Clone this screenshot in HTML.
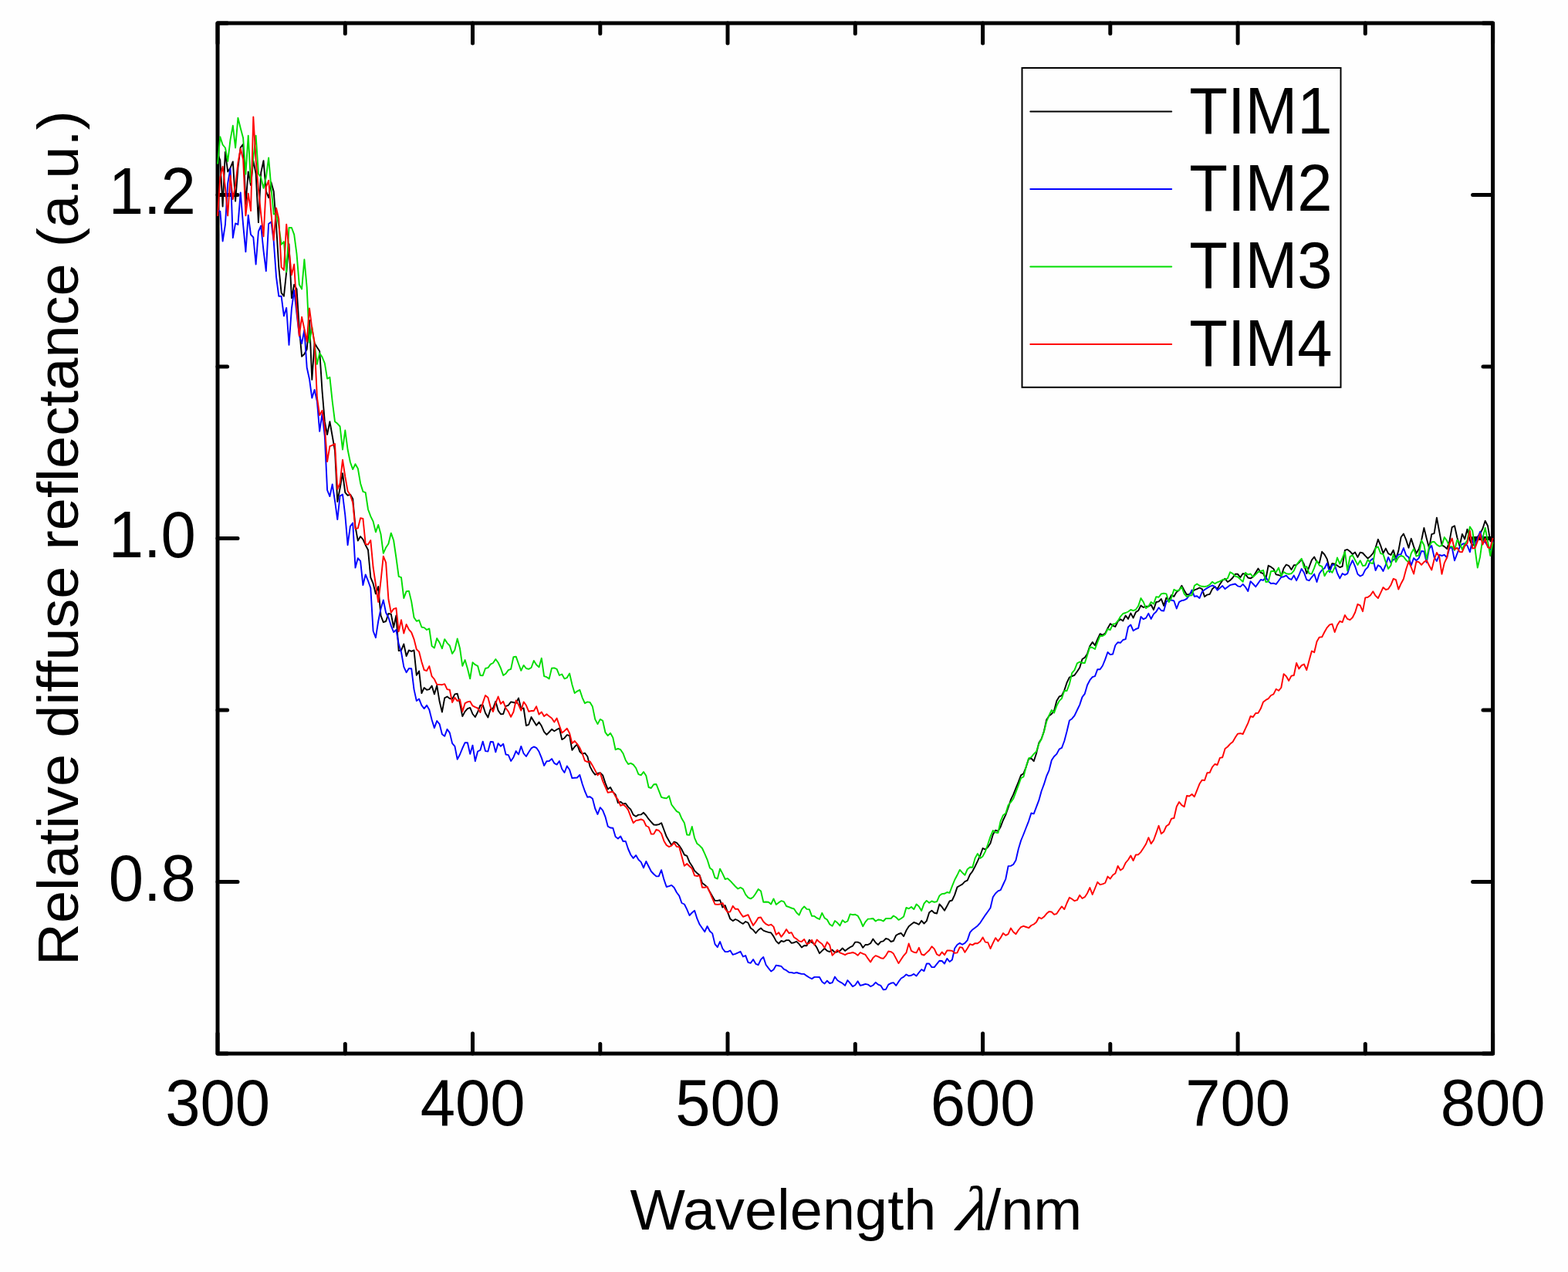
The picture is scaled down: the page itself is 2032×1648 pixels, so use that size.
<!DOCTYPE html>
<html lang="en"><head><meta charset="utf-8"><title>Relative diffuse reflectance</title>
<style>html,body{margin:0;padding:0;background:#fefefe;overflow:hidden}svg{display:block}</style>
</head><body>
<svg width="2032" height="1648" viewBox="0 0 2032 1648">
<rect width="2032" height="1648" fill="#fefefe"/>
<g stroke="#000" stroke-width="5.0" fill="none" stroke-linecap="round" stroke-linejoin="round">
<rect x="282.0" y="30.0" width="1652.6" height="1335.0"/>
<path d="M282.0 1365.0v-26M282.0 30.0v26M447.3 1365.0v-12.6M447.3 30.0v13.5M612.5 1365.0v-26M612.5 30.0v26M777.8 1365.0v-12.6M777.8 30.0v13.5M943.0 1365.0v-26M943.0 30.0v26M1108.3 1365.0v-12.6M1108.3 30.0v13.5M1273.6 1365.0v-26M1273.6 30.0v26M1438.8 1365.0v-12.6M1438.8 30.0v13.5M1604.1 1365.0v-26M1604.1 30.0v26M1769.3 1365.0v-12.6M1769.3 30.0v13.5M1934.6 1365.0v-26M1934.6 30.0v26M282.0 1365.0h12.6M1934.6 1365.0h-12.6M282.0 1142.5h26M1934.6 1142.5h-26M282.0 920.0h12.6M1934.6 920.0h-12.6M282.0 697.5h26M1934.6 697.5h-26M282.0 475.0h12.6M1934.6 475.0h-12.6M282.0 252.5h26M1934.6 252.5h-26M282.0 30.0h12.6M1934.6 30.0h-12.6"/>
</g>
<g fill="none" stroke-width="1.9" stroke-linejoin="round" stroke-linecap="butt">
<polyline stroke="#000000" points="282.0,199.0 285.3,207.5 288.6,267.5 291.9,196.9 295.2,222.5 298.5,217.5 301.8,209.4 305.1,260.6 308.4,217.5 311.7,191.2 315.1,186.9 318.4,264.4 321.7,222.5 325.0,240.0 328.3,208.1 331.6,225.0 334.9,288.1 338.2,223.8 341.5,208.1 344.8,247.5 348.1,256.2 351.4,236.2 354.7,248.1 358.0,291.2 361.3,346.2 364.6,379.4 367.9,383.8 371.2,352.5 374.5,316.2 377.9,386.2 381.2,368.8 384.5,374.4 387.8,425.0 391.1,461.9 394.4,458.8 397.7,452.5 401.0,415.0 404.3,491.9 407.6,444.4 410.9,450.0 414.2,455.0 417.5,506.2 420.8,546.2 424.1,563.1 427.4,546.2 430.7,565.0 434.0,583.8 437.3,650.0 440.6,632.5 444.0,613.1 447.3,638.1 450.6,641.9 453.9,640.6 457.2,646.2 460.5,682.5 463.8,700.6 467.1,695.0 470.4,698.8 473.7,706.2 477.0,712.5 480.3,748.1 483.6,756.2 486.9,769.4 490.2,760.0 493.5,797.5 496.8,806.2 500.1,805.0 503.4,795.0 506.8,795.6 510.1,812.8 513.4,797.5 516.7,843.1 520.0,842.5 523.3,834.4 526.6,850.0 529.9,842.5 533.2,843.8 536.5,842.5 539.8,874.8 543.1,869.4 546.4,898.1 549.7,891.0 553.0,893.8 556.3,893.1 559.6,888.5 562.9,899.4 566.2,888.1 569.6,908.8 572.9,922.5 576.2,904.4 579.5,902.5 582.8,905.0 586.1,905.6 589.4,899.4 592.7,898.8 596.0,911.2 599.3,928.1 602.6,921.9 605.9,918.1 609.2,916.9 612.5,925.0 615.8,929.0 619.1,922.5 622.4,913.8 625.7,913.5 629.0,923.8 632.4,929.4 635.7,918.8 639.0,917.5 642.3,908.8 645.6,920.6 648.9,925.2 652.2,925.0 655.5,914.8 658.8,913.8 662.1,909.4 665.4,910.0 668.7,911.2 672.0,904.4 675.3,918.1 678.6,917.5 681.9,940.0 685.2,938.8 688.5,929.0 691.8,934.4 695.1,939.8 698.5,935.6 701.8,940.6 705.1,948.1 708.4,951.9 711.7,948.5 715.0,944.8 718.3,947.2 721.6,945.2 724.9,943.5 728.2,958.1 731.5,956.2 734.8,952.2 738.1,953.1 741.4,971.9 744.7,967.5 748.0,964.4 751.3,973.8 754.6,976.9 757.9,975.6 761.3,980.0 764.6,993.1 767.9,999.4 771.2,1003.8 774.5,1001.9 777.8,1001.2 781.1,1004.4 784.4,1014.4 787.7,1022.5 791.0,1020.0 794.3,1026.2 797.6,1029.4 800.9,1040.2 804.2,1038.8 807.5,1041.5 810.8,1041.0 814.1,1045.6 817.4,1048.8 820.7,1055.6 824.1,1057.8 827.4,1055.6 830.7,1055.4 834.0,1052.8 837.3,1056.5 840.6,1061.2 843.9,1065.0 847.2,1068.5 850.5,1068.8 853.8,1068.1 857.1,1066.2 860.4,1075.0 863.7,1083.8 867.0,1089.4 870.3,1095.0 873.6,1090.6 876.9,1091.9 880.2,1095.6 883.5,1100.6 886.9,1107.5 890.2,1108.8 893.5,1116.9 896.8,1121.9 900.1,1128.1 903.4,1131.2 906.7,1134.0 910.0,1144.0 913.3,1146.5 916.6,1149.4 919.9,1155.6 923.2,1161.2 926.5,1166.9 929.8,1166.9 933.1,1166.2 936.4,1175.6 939.7,1173.1 943.0,1181.9 946.3,1190.6 949.7,1193.1 953.0,1191.0 956.3,1192.5 959.6,1195.0 962.9,1196.9 966.2,1194.0 969.5,1195.6 972.8,1202.5 976.1,1204.8 979.4,1209.0 982.7,1205.0 986.0,1202.5 989.3,1205.6 992.6,1206.9 995.9,1207.9 999.2,1208.5 1002.5,1213.1 1005.8,1219.4 1009.1,1222.5 1012.4,1219.0 1015.8,1220.0 1019.1,1218.1 1022.4,1218.1 1025.7,1221.9 1029.0,1221.2 1032.3,1219.8 1035.6,1223.1 1038.9,1227.5 1042.2,1225.0 1045.5,1225.2 1048.8,1217.8 1052.1,1221.0 1055.4,1223.1 1058.7,1228.1 1062.0,1235.2 1065.3,1231.9 1068.6,1228.8 1071.9,1231.9 1075.2,1233.1 1078.6,1230.6 1081.9,1234.0 1085.2,1233.1 1088.5,1231.9 1091.8,1228.5 1095.1,1231.9 1098.4,1229.4 1101.7,1227.2 1105.0,1225.6 1108.3,1220.6 1111.6,1220.6 1114.9,1222.2 1118.2,1227.8 1121.5,1224.0 1124.8,1224.0 1128.1,1222.2 1131.4,1216.5 1134.7,1221.2 1138.0,1224.0 1141.4,1220.2 1144.7,1219.4 1148.0,1216.0 1151.3,1216.9 1154.6,1220.0 1157.9,1219.0 1161.2,1211.9 1164.5,1210.0 1167.8,1209.0 1171.1,1213.1 1174.4,1205.6 1177.7,1200.2 1181.0,1197.5 1184.3,1195.0 1187.6,1196.2 1190.9,1197.8 1194.2,1192.8 1197.5,1196.5 1200.8,1193.1 1204.2,1182.2 1207.5,1179.8 1210.8,1182.8 1214.1,1183.5 1217.4,1171.5 1220.7,1175.0 1224.0,1179.8 1227.3,1173.8 1230.6,1167.5 1233.9,1166.5 1237.2,1159.4 1240.5,1149.4 1243.8,1147.5 1247.1,1145.6 1250.4,1142.2 1253.7,1140.6 1257.0,1133.1 1260.3,1128.8 1263.6,1122.5 1266.9,1115.6 1270.3,1108.1 1273.6,1099.0 1276.9,1100.6 1280.2,1097.5 1283.5,1092.5 1286.8,1081.2 1290.1,1075.6 1293.4,1076.9 1296.7,1071.2 1300.0,1062.5 1303.3,1055.6 1306.6,1046.2 1309.9,1036.2 1313.2,1029.4 1316.5,1021.2 1319.8,1013.1 1323.1,1004.4 1326.4,1002.2 1329.7,993.8 1333.1,983.1 1336.4,982.5 1339.7,986.2 1343.0,976.2 1346.3,962.5 1349.6,957.2 1352.9,947.5 1356.2,932.5 1359.5,927.5 1362.8,925.0 1366.1,920.6 1369.4,908.1 1372.7,902.5 1376.0,901.2 1379.3,894.4 1382.6,884.4 1385.9,877.5 1389.2,876.0 1392.5,874.8 1395.9,870.0 1399.2,865.0 1402.5,854.0 1405.8,851.9 1409.1,846.9 1412.4,836.9 1415.7,831.9 1419.0,836.2 1422.3,828.1 1425.6,821.2 1428.9,822.8 1432.2,820.6 1435.5,814.0 1438.8,808.1 1442.1,810.6 1445.4,811.9 1448.7,805.0 1452.0,802.2 1455.3,804.4 1458.7,797.5 1462.0,801.9 1465.3,794.4 1468.6,800.6 1471.9,793.1 1475.2,791.0 1478.5,784.4 1481.8,786.9 1485.1,785.6 1488.4,785.6 1491.7,783.5 1495.0,790.0 1498.3,780.0 1501.6,779.4 1504.9,776.0 1508.2,784.8 1511.5,774.4 1514.8,777.5 1518.1,771.0 1521.4,772.8 1524.8,766.9 1528.1,764.4 1531.4,758.8 1534.7,765.0 1538.0,770.6 1541.3,769.8 1544.6,767.5 1547.9,764.4 1551.2,763.1 1554.5,761.5 1557.8,763.1 1561.1,773.1 1564.4,770.6 1567.7,769.8 1571.0,763.1 1574.3,760.0 1577.6,763.1 1580.9,756.9 1584.2,751.9 1587.6,749.8 1590.9,754.0 1594.2,751.9 1597.5,748.5 1600.8,743.8 1604.1,743.8 1607.4,748.1 1610.7,743.1 1614.0,744.0 1617.3,748.5 1620.6,749.4 1623.9,747.2 1627.2,741.9 1630.5,736.5 1633.8,741.9 1637.1,743.1 1640.4,750.0 1643.7,732.8 1647.0,734.4 1650.4,736.9 1653.7,744.4 1657.0,745.0 1660.3,746.5 1663.6,736.2 1666.9,731.5 1670.2,733.1 1673.5,738.1 1676.8,732.2 1680.1,731.9 1683.4,728.8 1686.7,724.8 1690.0,731.2 1693.3,743.1 1696.6,734.4 1699.9,725.6 1703.2,721.5 1706.5,728.1 1709.8,729.4 1713.2,714.8 1716.5,718.5 1719.8,724.4 1723.1,737.5 1726.4,730.0 1729.7,730.6 1733.0,732.8 1736.3,735.0 1739.6,733.8 1742.9,712.8 1746.2,711.9 1749.5,714.4 1752.8,718.1 1756.1,715.6 1759.4,721.9 1762.7,715.6 1766.0,716.5 1769.3,720.2 1772.6,723.5 1776.0,720.6 1779.3,716.9 1782.6,709.8 1785.9,698.8 1789.2,706.9 1792.5,716.9 1795.8,710.6 1799.1,717.2 1802.4,719.0 1805.7,712.8 1809.0,724.0 1812.3,713.8 1815.6,696.0 1818.9,691.5 1822.2,699.4 1825.5,709.8 1828.8,697.8 1832.1,708.1 1835.4,716.9 1838.7,711.2 1842.1,700.0 1845.4,684.0 1848.7,697.5 1852.0,710.0 1855.3,692.2 1858.6,691.2 1861.9,670.6 1865.2,688.5 1868.5,706.2 1871.8,708.1 1875.1,711.0 1878.4,701.2 1881.7,683.1 1885.0,681.2 1888.3,696.2 1891.6,707.5 1894.9,691.9 1898.2,698.5 1901.5,685.6 1904.9,700.0 1908.2,707.5 1911.5,701.2 1914.8,695.6 1918.1,691.2 1921.4,685.0 1924.7,674.8 1928.0,681.2 1931.3,701.2 1934.6,696.2"/>
<polyline stroke="#0000ff" points="282.0,272.5 285.3,273.8 288.6,312.5 291.9,291.2 295.2,237.5 298.5,218.1 301.8,308.1 305.1,289.4 308.4,291.0 311.7,249.4 315.1,291.2 318.4,326.2 321.7,278.8 325.0,303.8 328.3,307.5 331.6,342.5 334.9,300.0 338.2,292.5 341.5,325.0 344.8,351.2 348.1,290.0 351.4,287.5 354.7,312.5 358.0,358.8 361.3,383.8 364.6,383.8 367.9,409.4 371.2,398.8 374.5,446.9 377.9,400.0 381.2,376.2 384.5,406.2 387.8,434.4 391.1,445.0 394.4,427.5 397.7,476.2 401.0,491.2 404.3,515.6 407.6,505.0 410.9,520.0 414.2,558.8 417.5,536.2 420.8,565.0 424.1,635.0 427.4,643.1 430.7,627.5 434.0,648.8 437.3,673.1 440.6,642.5 444.0,640.6 447.3,667.5 450.6,706.2 453.9,681.9 457.2,677.5 460.5,735.6 463.8,723.1 467.1,726.9 470.4,758.1 473.7,744.4 477.0,752.5 480.3,761.9 483.6,817.5 486.9,826.2 490.2,805.0 493.5,788.8 496.8,777.5 500.1,793.8 503.4,800.0 506.8,810.6 510.1,819.0 513.4,816.0 516.7,834.4 520.0,845.0 523.3,863.8 526.6,871.2 529.9,866.0 533.2,866.2 536.5,893.1 539.8,908.1 543.1,905.6 546.4,913.8 549.7,918.1 553.0,913.8 556.3,919.4 559.6,932.5 562.9,943.1 566.2,934.0 569.6,938.1 572.9,951.2 576.2,953.8 579.5,944.8 582.8,949.4 586.1,963.1 589.4,966.9 592.7,983.8 596.0,977.5 599.3,969.4 602.6,962.2 605.9,962.2 609.2,976.9 612.5,965.6 615.8,986.2 619.1,973.5 622.4,971.9 625.7,960.6 629.0,973.1 632.4,973.5 635.7,961.0 639.0,961.2 642.3,974.4 645.6,963.1 648.9,966.9 652.2,963.8 655.5,977.5 658.8,978.1 662.1,986.0 665.4,981.2 668.7,973.1 672.0,977.5 675.3,966.9 678.6,976.2 681.9,980.0 685.2,974.4 688.5,969.4 691.8,967.5 695.1,968.8 698.5,973.8 701.8,981.9 705.1,991.9 708.4,986.2 711.7,986.0 715.0,983.1 718.3,988.8 721.6,990.6 724.9,986.0 728.2,996.2 731.5,1001.0 734.8,992.5 738.1,997.2 741.4,1008.1 744.7,1007.8 748.0,1007.5 751.3,1004.0 754.6,1015.6 757.9,1025.0 761.3,1032.8 764.6,1032.2 767.9,1034.8 771.2,1047.5 774.5,1055.0 777.8,1046.2 781.1,1049.8 784.4,1058.1 787.7,1070.6 791.0,1072.5 794.3,1072.8 797.6,1084.0 800.9,1086.5 804.2,1083.5 807.5,1090.0 810.8,1090.0 814.1,1100.0 817.4,1107.5 820.7,1111.9 824.1,1108.1 827.4,1113.8 830.7,1116.9 834.0,1124.4 837.3,1116.0 840.6,1122.5 843.9,1129.0 847.2,1132.5 850.5,1135.4 853.8,1135.2 857.1,1127.2 860.4,1139.4 863.7,1149.0 867.0,1148.1 870.3,1146.9 873.6,1150.0 876.9,1156.2 880.2,1160.6 883.5,1170.0 886.9,1171.5 890.2,1178.1 893.5,1186.0 896.8,1182.5 900.1,1179.8 903.4,1190.2 906.7,1197.8 910.0,1202.5 913.3,1207.2 916.6,1200.0 919.9,1206.5 923.2,1209.4 926.5,1223.1 929.8,1227.2 933.1,1220.0 936.4,1229.0 939.7,1233.1 943.0,1233.1 946.3,1231.5 949.7,1236.9 953.0,1235.9 956.3,1234.4 959.6,1232.8 962.9,1239.4 966.2,1238.1 969.5,1246.9 972.8,1247.8 976.1,1243.1 979.4,1248.8 982.7,1250.2 986.0,1243.1 989.3,1240.0 992.6,1250.0 995.9,1254.4 999.2,1258.5 1002.5,1256.2 1005.8,1250.6 1009.1,1251.2 1012.4,1251.9 1015.8,1255.6 1019.1,1257.2 1022.4,1259.8 1025.7,1260.0 1029.0,1260.9 1032.3,1260.0 1035.6,1261.0 1038.9,1261.9 1042.2,1261.9 1045.5,1264.4 1048.8,1266.5 1052.1,1268.1 1055.4,1265.9 1058.7,1265.9 1062.0,1266.0 1065.3,1271.9 1068.6,1274.4 1071.9,1270.6 1075.2,1274.0 1078.6,1273.1 1081.9,1265.6 1085.2,1270.0 1088.5,1272.2 1091.8,1274.0 1095.1,1276.9 1098.4,1270.0 1101.7,1273.8 1105.0,1278.1 1108.3,1276.2 1111.6,1271.2 1114.9,1276.9 1118.2,1276.0 1121.5,1274.8 1124.8,1275.6 1128.1,1278.1 1131.4,1276.5 1134.7,1272.8 1138.0,1275.6 1141.4,1276.9 1144.7,1282.2 1148.0,1281.9 1151.3,1275.6 1154.6,1273.8 1157.9,1273.1 1161.2,1276.9 1164.5,1271.9 1167.8,1267.5 1171.1,1265.6 1174.4,1262.5 1177.7,1264.4 1181.0,1263.8 1184.3,1261.9 1187.6,1264.4 1190.9,1260.0 1194.2,1256.0 1197.5,1258.1 1200.8,1248.5 1204.2,1248.5 1207.5,1253.1 1210.8,1253.1 1214.1,1248.8 1217.4,1244.8 1220.7,1245.0 1224.0,1248.5 1227.3,1241.9 1230.6,1246.0 1233.9,1243.5 1237.2,1228.8 1240.5,1224.0 1243.8,1221.9 1247.1,1223.8 1250.4,1221.9 1253.7,1218.1 1257.0,1208.1 1260.3,1204.4 1263.6,1201.9 1266.9,1199.4 1270.3,1195.6 1273.6,1190.6 1276.9,1185.6 1280.2,1181.0 1283.5,1176.2 1286.8,1162.2 1290.1,1157.5 1293.4,1154.4 1296.7,1153.1 1300.0,1146.0 1303.3,1138.8 1306.6,1122.1 1309.9,1121.9 1313.2,1120.0 1316.5,1114.4 1319.8,1100.0 1323.1,1089.0 1326.4,1081.0 1329.7,1072.5 1333.1,1063.8 1336.4,1053.5 1339.7,1054.4 1343.0,1045.6 1346.3,1036.9 1349.6,1025.0 1352.9,1016.2 1356.2,1005.6 1359.5,998.1 1362.8,985.0 1366.1,980.0 1369.4,976.9 1372.7,970.6 1376.0,968.8 1379.3,960.0 1382.6,947.5 1385.9,933.5 1389.2,931.2 1392.5,927.2 1395.9,920.0 1399.2,913.1 1402.5,903.1 1405.8,898.8 1409.1,887.5 1412.4,881.2 1415.7,877.2 1419.0,876.2 1422.3,867.2 1425.6,867.2 1428.9,862.5 1432.2,854.4 1435.5,845.0 1438.8,848.1 1442.1,847.5 1445.4,836.0 1448.7,832.2 1452.0,832.8 1455.3,829.0 1458.7,828.1 1462.0,812.5 1465.3,809.4 1468.6,817.2 1471.9,815.0 1475.2,813.8 1478.5,799.0 1481.8,802.2 1485.1,800.6 1488.4,794.8 1491.7,801.9 1495.0,795.6 1498.3,792.5 1501.6,787.2 1504.9,791.0 1508.2,791.5 1511.5,779.4 1514.8,777.2 1518.1,777.5 1521.4,778.5 1524.8,788.5 1528.1,779.8 1531.4,778.1 1534.7,777.5 1538.0,775.6 1541.3,771.2 1544.6,764.4 1547.9,772.8 1551.2,772.2 1554.5,775.0 1557.8,766.9 1561.1,764.0 1564.4,761.9 1567.7,760.0 1571.0,758.5 1574.3,759.8 1577.6,764.8 1580.9,761.9 1584.2,759.0 1587.6,763.1 1590.9,760.6 1594.2,758.1 1597.5,757.2 1600.8,756.5 1604.1,759.4 1607.4,760.2 1610.7,756.9 1614.0,760.6 1617.3,766.0 1620.6,753.1 1623.9,756.5 1627.2,760.2 1630.5,755.6 1633.8,751.0 1637.1,751.9 1640.4,747.8 1643.7,753.1 1647.0,756.0 1650.4,755.6 1653.7,756.9 1657.0,752.5 1660.3,747.8 1663.6,747.2 1666.9,745.6 1670.2,749.4 1673.5,751.0 1676.8,745.6 1680.1,752.2 1683.4,745.0 1686.7,736.9 1690.0,741.9 1693.3,751.2 1696.6,752.2 1699.9,747.8 1703.2,743.8 1706.5,754.0 1709.8,743.1 1713.2,738.5 1716.5,736.2 1719.8,729.8 1723.1,741.2 1726.4,731.9 1729.7,731.9 1733.0,742.5 1736.3,749.4 1739.6,743.1 1742.9,744.8 1746.2,743.1 1749.5,732.8 1752.8,726.0 1756.1,733.8 1759.4,743.8 1762.7,746.5 1766.0,744.8 1769.3,738.1 1772.6,734.8 1776.0,726.2 1779.3,723.5 1782.6,739.0 1785.9,732.2 1789.2,734.4 1792.5,740.0 1795.8,731.9 1799.1,721.9 1802.4,729.0 1805.7,725.2 1809.0,722.5 1812.3,718.5 1815.6,718.1 1818.9,710.0 1822.2,719.4 1825.5,721.9 1828.8,732.5 1832.1,723.1 1835.4,726.2 1838.7,723.1 1842.1,714.0 1845.4,714.4 1848.7,728.8 1852.0,711.2 1855.3,706.9 1858.6,721.9 1861.9,726.9 1865.2,718.8 1868.5,720.0 1871.8,718.8 1875.1,722.5 1878.4,710.0 1881.7,709.4 1885.0,726.2 1888.3,717.5 1891.6,708.8 1894.9,705.0 1898.2,704.0 1901.5,706.9 1904.9,715.2 1908.2,700.0 1911.5,707.5 1914.8,697.5 1918.1,688.8 1921.4,700.0 1924.7,702.5 1928.0,707.5 1931.3,712.5 1934.6,701.2"/>
<polyline stroke="#00dc00" points="282.0,212.5 285.3,177.2 288.6,187.5 291.9,191.5 295.2,209.0 298.5,181.2 301.8,162.8 305.1,191.5 308.4,152.8 311.7,166.0 315.1,178.8 318.4,225.6 321.7,175.6 325.0,236.2 328.3,205.0 331.6,175.6 334.9,225.0 338.2,230.0 341.5,243.8 344.8,230.0 348.1,204.4 351.4,242.5 354.7,277.5 358.0,276.2 361.3,292.5 364.6,316.9 367.9,313.1 371.2,352.5 374.5,295.0 377.9,295.0 381.2,303.8 384.5,328.8 387.8,368.8 391.1,374.4 394.4,336.2 397.7,372.5 401.0,443.8 404.3,423.8 407.6,445.0 410.9,471.9 414.2,457.5 417.5,462.5 420.8,470.6 424.1,490.6 427.4,488.8 430.7,520.0 434.0,546.2 437.3,548.8 440.6,552.5 444.0,582.5 447.3,557.5 450.6,582.5 453.9,598.8 457.2,608.1 460.5,601.2 463.8,606.9 467.1,626.2 470.4,636.9 473.7,638.1 477.0,660.0 480.3,668.8 483.6,675.6 486.9,689.4 490.2,680.0 493.5,691.9 496.8,716.9 500.1,709.4 503.4,704.4 506.8,690.6 510.1,700.0 513.4,722.5 516.7,746.9 520.0,748.1 523.3,775.0 526.6,766.2 529.9,765.6 533.2,779.4 536.5,800.0 539.8,804.8 543.1,803.5 546.4,812.5 549.7,813.1 553.0,816.0 556.3,814.4 559.6,836.9 562.9,839.4 566.2,826.9 569.6,832.5 572.9,840.2 576.2,828.1 579.5,833.1 582.8,836.5 586.1,846.9 589.4,841.9 592.7,827.5 596.0,840.0 599.3,862.8 602.6,855.0 605.9,866.2 609.2,879.4 612.5,858.1 615.8,861.2 619.1,862.8 622.4,875.0 625.7,875.2 629.0,866.0 632.4,865.2 635.7,860.6 639.0,859.0 642.3,854.0 645.6,858.5 648.9,865.6 652.2,875.0 655.5,872.8 658.8,868.1 662.1,866.9 665.4,851.2 668.7,850.6 672.0,860.0 675.3,868.8 678.6,861.9 681.9,866.0 685.2,866.9 688.5,865.0 691.8,856.0 695.1,861.2 698.5,864.4 701.8,852.8 705.1,876.2 708.4,877.2 711.7,879.4 715.0,865.6 718.3,865.4 721.6,866.9 724.9,875.0 728.2,873.5 731.5,879.4 734.8,878.1 738.1,872.5 741.4,886.9 744.7,898.1 748.0,895.6 751.3,893.8 754.6,903.8 757.9,911.2 761.3,909.4 764.6,910.0 767.9,915.6 771.2,931.9 774.5,938.1 777.8,931.9 781.1,933.8 784.4,948.8 787.7,953.1 791.0,949.8 794.3,955.6 797.6,971.2 800.9,970.0 804.2,971.2 807.5,976.2 810.8,985.0 814.1,990.0 817.4,988.8 820.7,990.6 824.1,995.0 827.4,1003.1 830.7,1004.4 834.0,1000.0 837.3,1005.0 840.6,1020.0 843.9,1021.0 847.2,1016.2 850.5,1016.0 853.8,1024.4 857.1,1032.8 860.4,1033.8 863.7,1034.4 867.0,1031.2 870.3,1042.5 873.6,1046.9 876.9,1051.2 880.2,1052.8 883.5,1060.6 886.9,1066.2 890.2,1081.5 893.5,1081.9 896.8,1071.0 900.1,1085.6 903.4,1093.1 906.7,1095.6 910.0,1099.0 913.3,1106.2 916.6,1113.8 919.9,1124.4 923.2,1126.9 926.5,1137.2 929.8,1138.5 933.1,1125.6 936.4,1131.9 939.7,1139.0 943.0,1138.1 946.3,1141.2 949.7,1144.8 953.0,1148.5 956.3,1151.5 959.6,1149.8 962.9,1151.9 966.2,1158.8 969.5,1162.8 972.8,1164.4 976.1,1162.2 979.4,1157.5 982.7,1151.9 986.0,1154.4 989.3,1168.8 992.6,1168.5 995.9,1168.8 999.2,1171.5 1002.5,1164.4 1005.8,1171.9 1009.1,1169.4 1012.4,1167.2 1015.8,1168.1 1019.1,1174.0 1022.4,1175.2 1025.7,1176.5 1029.0,1177.5 1032.3,1182.5 1035.6,1185.6 1038.9,1178.1 1042.2,1174.4 1045.5,1177.9 1048.8,1178.1 1052.1,1186.9 1055.4,1186.9 1058.7,1189.4 1062.0,1191.0 1065.3,1182.8 1068.6,1189.4 1071.9,1191.5 1075.2,1197.5 1078.6,1199.8 1081.9,1193.1 1085.2,1195.6 1088.5,1199.4 1091.8,1192.2 1095.1,1195.0 1098.4,1193.5 1101.7,1184.4 1105.0,1185.2 1108.3,1184.8 1111.6,1186.5 1114.9,1192.2 1118.2,1200.2 1121.5,1194.4 1124.8,1190.6 1128.1,1190.4 1131.4,1190.0 1134.7,1193.5 1138.0,1191.5 1141.4,1191.9 1144.7,1193.5 1148.0,1190.0 1151.3,1190.0 1154.6,1190.0 1157.9,1186.5 1161.2,1188.5 1164.5,1191.9 1167.8,1190.0 1171.1,1187.5 1174.4,1176.0 1177.7,1177.2 1181.0,1175.0 1184.3,1178.1 1187.6,1171.5 1190.9,1174.4 1194.2,1180.0 1197.5,1170.6 1200.8,1166.9 1204.2,1169.8 1207.5,1167.5 1210.8,1168.8 1214.1,1168.1 1217.4,1160.6 1220.7,1158.1 1224.0,1157.8 1227.3,1156.0 1230.6,1156.9 1233.9,1148.1 1237.2,1140.0 1240.5,1133.8 1243.8,1126.9 1247.1,1130.6 1250.4,1133.8 1253.7,1126.2 1257.0,1123.5 1260.3,1123.8 1263.6,1111.9 1266.9,1106.0 1270.3,1111.9 1273.6,1109.4 1276.9,1103.1 1280.2,1093.8 1283.5,1083.8 1286.8,1076.0 1290.1,1078.5 1293.4,1079.0 1296.7,1063.8 1300.0,1056.2 1303.3,1053.8 1306.6,1043.1 1309.9,1039.4 1313.2,1034.8 1316.5,1026.2 1319.8,1017.5 1323.1,1008.1 1326.4,1006.5 1329.7,993.5 1333.1,982.5 1336.4,981.2 1339.7,976.9 1343.0,973.8 1346.3,963.8 1349.6,957.5 1352.9,948.1 1356.2,935.0 1359.5,926.9 1362.8,920.0 1366.1,923.5 1369.4,914.4 1372.7,908.1 1376.0,904.8 1379.3,895.0 1382.6,895.0 1385.9,886.2 1389.2,871.9 1392.5,868.1 1395.9,859.4 1399.2,857.5 1402.5,858.8 1405.8,859.0 1409.1,848.8 1412.4,838.1 1415.7,839.0 1419.0,841.0 1422.3,831.9 1425.6,823.8 1428.9,824.0 1432.2,821.9 1435.5,815.0 1438.8,816.0 1442.1,808.8 1445.4,808.1 1448.7,804.4 1452.0,798.8 1455.3,795.0 1458.7,794.0 1462.0,792.5 1465.3,790.0 1468.6,791.2 1471.9,789.8 1475.2,785.0 1478.5,775.0 1481.8,780.0 1485.1,788.1 1488.4,785.6 1491.7,780.0 1495.0,782.5 1498.3,773.1 1501.6,773.8 1504.9,769.4 1508.2,768.8 1511.5,769.4 1514.8,780.0 1518.1,774.4 1521.4,763.8 1524.8,765.6 1528.1,764.4 1531.4,760.6 1534.7,769.4 1538.0,773.1 1541.3,771.5 1544.6,771.2 1547.9,758.8 1551.2,756.5 1554.5,758.8 1557.8,759.8 1561.1,760.0 1564.4,759.4 1567.7,757.5 1571.0,753.8 1574.3,756.2 1577.6,754.4 1580.9,753.1 1584.2,751.2 1587.6,750.6 1590.9,749.4 1594.2,741.2 1597.5,743.1 1600.8,746.5 1604.1,747.5 1607.4,750.6 1610.7,753.8 1614.0,741.9 1617.3,744.4 1620.6,743.5 1623.9,747.5 1627.2,744.4 1630.5,741.0 1633.8,740.0 1637.1,738.8 1640.4,754.0 1643.7,753.5 1647.0,740.2 1650.4,739.8 1653.7,741.2 1657.0,735.6 1660.3,746.2 1663.6,741.0 1666.9,743.1 1670.2,743.8 1673.5,743.1 1676.8,739.4 1680.1,731.9 1683.4,727.5 1686.7,723.8 1690.0,735.6 1693.3,734.0 1696.6,743.1 1699.9,743.5 1703.2,735.6 1706.5,726.5 1709.8,732.5 1713.2,733.8 1716.5,746.2 1719.8,740.6 1723.1,738.8 1726.4,741.9 1729.7,735.2 1733.0,722.5 1736.3,730.6 1739.6,723.1 1742.9,715.0 1746.2,739.4 1749.5,721.2 1752.8,719.4 1756.1,725.6 1759.4,731.9 1762.7,726.2 1766.0,733.1 1769.3,732.5 1772.6,725.2 1776.0,729.4 1779.3,730.0 1782.6,709.8 1785.9,708.5 1789.2,717.2 1792.5,718.1 1795.8,728.1 1799.1,736.9 1802.4,732.5 1805.7,718.1 1809.0,728.1 1812.3,721.9 1815.6,720.0 1818.9,721.2 1822.2,725.6 1825.5,728.5 1828.8,716.9 1832.1,711.0 1835.4,720.6 1838.7,719.4 1842.1,700.0 1845.4,706.2 1848.7,724.4 1852.0,708.1 1855.3,702.2 1858.6,701.9 1861.9,705.6 1865.2,707.8 1868.5,706.9 1871.8,696.0 1875.1,700.6 1878.4,708.1 1881.7,708.1 1885.0,713.1 1888.3,699.4 1891.6,703.1 1894.9,711.9 1898.2,705.0 1901.5,700.0 1904.9,682.5 1908.2,687.5 1911.5,711.2 1914.8,735.6 1918.1,721.2 1921.4,697.5 1924.7,683.8 1928.0,701.2 1931.3,720.0 1934.6,702.5"/>
<polyline stroke="#ff0000" points="282.0,280.0 285.3,230.0 288.6,215.6 291.9,242.5 295.2,279.4 298.5,227.5 301.8,258.1 305.1,240.0 308.4,211.2 311.7,192.5 315.1,206.2 318.4,279.4 321.7,250.6 325.0,273.1 328.3,151.5 331.6,207.5 334.9,245.0 338.2,277.5 341.5,306.2 344.8,242.5 348.1,233.8 351.4,276.2 354.7,311.2 358.0,269.4 361.3,283.8 364.6,346.2 367.9,350.0 371.2,290.6 374.5,323.8 377.9,356.2 381.2,342.5 384.5,400.0 387.8,435.0 391.1,410.6 394.4,426.2 397.7,442.5 401.0,399.4 404.3,425.0 407.6,443.8 410.9,515.0 414.2,538.1 417.5,531.9 420.8,552.5 424.1,598.1 427.4,578.1 430.7,576.9 434.0,575.0 437.3,633.8 440.6,626.2 444.0,595.6 447.3,617.5 450.6,636.2 453.9,641.2 457.2,651.2 460.5,685.0 463.8,684.4 467.1,671.2 470.4,671.9 473.7,705.0 477.0,705.6 480.3,700.0 483.6,735.0 486.9,757.5 490.2,780.0 493.5,752.5 496.8,720.6 500.1,728.8 503.4,776.2 506.8,793.8 510.1,788.8 513.4,787.8 516.7,818.1 520.0,803.1 523.3,820.6 526.6,809.0 529.9,815.6 533.2,819.4 536.5,828.1 539.8,841.2 543.1,844.4 546.4,857.5 549.7,868.1 553.0,869.0 556.3,863.1 559.6,876.2 562.9,880.0 566.2,886.9 569.6,886.9 572.9,887.2 576.2,886.2 579.5,893.1 582.8,893.8 586.1,910.0 589.4,903.8 592.7,908.1 596.0,906.2 599.3,921.9 602.6,911.2 605.9,909.4 609.2,908.8 612.5,914.4 615.8,916.2 619.1,917.5 622.4,923.1 625.7,910.6 629.0,901.0 632.4,903.8 635.7,916.2 639.0,921.9 642.3,911.2 645.6,902.5 648.9,911.9 652.2,908.8 655.5,917.5 658.8,921.9 662.1,928.8 665.4,922.5 668.7,907.5 672.0,913.1 675.3,920.6 678.6,909.4 681.9,913.8 685.2,921.9 688.5,921.0 691.8,921.0 695.1,915.2 698.5,925.6 701.8,922.5 705.1,928.1 708.4,925.2 711.7,928.1 715.0,930.6 718.3,935.6 721.6,930.6 724.9,940.0 728.2,949.4 731.5,946.9 734.8,943.8 738.1,950.0 741.4,963.1 744.7,960.0 748.0,963.8 751.3,968.8 754.6,976.2 757.9,985.6 761.3,987.2 764.6,986.5 767.9,991.9 771.2,998.1 774.5,1004.4 777.8,1001.5 781.1,1011.9 784.4,1019.4 787.7,1026.9 791.0,1026.2 794.3,1025.6 797.6,1031.9 800.9,1036.2 804.2,1044.0 807.5,1042.2 810.8,1045.0 814.1,1049.4 817.4,1058.1 820.7,1066.2 824.1,1063.1 827.4,1062.5 830.7,1061.5 834.0,1062.8 837.3,1070.0 840.6,1071.5 843.9,1080.6 847.2,1080.6 850.5,1074.8 853.8,1076.0 857.1,1080.0 860.4,1089.4 863.7,1095.0 867.0,1097.1 870.3,1095.6 873.6,1091.9 876.9,1096.9 880.2,1097.2 883.5,1109.4 886.9,1121.9 890.2,1119.0 893.5,1122.2 896.8,1125.2 900.1,1134.4 903.4,1135.0 906.7,1134.4 910.0,1149.8 913.3,1149.8 916.6,1148.8 919.9,1156.2 923.2,1163.8 926.5,1171.5 929.8,1171.9 933.1,1171.5 936.4,1170.0 939.7,1177.5 943.0,1181.9 946.3,1181.2 949.7,1173.8 953.0,1177.8 956.3,1177.8 959.6,1183.1 962.9,1187.8 966.2,1186.5 969.5,1185.2 972.8,1192.5 976.1,1199.0 979.4,1194.4 982.7,1189.0 986.0,1188.5 989.3,1194.0 992.6,1197.2 995.9,1198.8 999.2,1197.8 1002.5,1200.6 1005.8,1211.0 1009.1,1208.1 1012.4,1213.8 1015.8,1209.4 1019.1,1204.0 1022.4,1209.0 1025.7,1208.1 1029.0,1214.4 1032.3,1216.5 1035.6,1219.4 1038.9,1220.0 1042.2,1216.9 1045.5,1223.1 1048.8,1221.9 1052.1,1217.8 1055.4,1224.4 1058.7,1217.5 1062.0,1220.6 1065.3,1223.1 1068.6,1228.1 1071.9,1220.6 1075.2,1224.4 1078.6,1237.8 1081.9,1234.4 1085.2,1230.6 1088.5,1234.4 1091.8,1235.6 1095.1,1237.2 1098.4,1235.4 1101.7,1234.8 1105.0,1234.0 1108.3,1235.2 1111.6,1237.8 1114.9,1234.0 1118.2,1235.6 1121.5,1236.9 1124.8,1241.9 1128.1,1246.5 1131.4,1241.0 1134.7,1238.1 1138.0,1239.4 1141.4,1241.2 1144.7,1241.9 1148.0,1238.1 1151.3,1232.5 1154.6,1233.1 1157.9,1235.6 1161.2,1241.9 1164.5,1248.1 1167.8,1243.1 1171.1,1238.1 1174.4,1234.4 1177.7,1222.5 1181.0,1231.9 1184.3,1233.8 1187.6,1234.4 1190.9,1227.8 1194.2,1236.5 1197.5,1237.5 1200.8,1234.4 1204.2,1231.2 1207.5,1226.2 1210.8,1229.4 1214.1,1236.5 1217.4,1238.1 1220.7,1233.5 1224.0,1237.2 1227.3,1231.5 1230.6,1231.5 1233.9,1231.9 1237.2,1234.8 1240.5,1234.4 1243.8,1227.1 1247.1,1227.8 1250.4,1233.8 1253.7,1228.8 1257.0,1223.1 1260.3,1224.4 1263.6,1222.1 1266.9,1222.2 1270.3,1219.8 1273.6,1214.4 1276.9,1220.6 1280.2,1221.0 1283.5,1229.0 1286.8,1221.9 1290.1,1215.2 1293.4,1219.4 1296.7,1215.0 1300.0,1209.0 1303.3,1211.9 1306.6,1210.2 1309.9,1202.5 1313.2,1207.5 1316.5,1210.2 1319.8,1205.0 1323.1,1201.2 1326.4,1199.8 1329.7,1201.0 1333.1,1202.2 1336.4,1199.0 1339.7,1197.5 1343.0,1194.8 1346.3,1188.5 1349.6,1190.2 1352.9,1187.8 1356.2,1183.8 1359.5,1181.0 1362.8,1181.5 1366.1,1184.8 1369.4,1183.8 1372.7,1178.8 1376.0,1174.4 1379.3,1178.1 1382.6,1170.0 1385.9,1162.8 1389.2,1164.8 1392.5,1167.2 1395.9,1166.2 1399.2,1159.8 1402.5,1164.0 1405.8,1162.2 1409.1,1157.2 1412.4,1150.0 1415.7,1159.0 1419.0,1151.0 1422.3,1142.8 1425.6,1146.2 1428.9,1145.4 1432.2,1144.0 1435.5,1135.6 1438.8,1138.5 1442.1,1133.8 1445.4,1131.5 1448.7,1121.9 1452.0,1127.5 1455.3,1125.2 1458.7,1117.8 1462.0,1114.0 1465.3,1108.5 1468.6,1115.0 1471.9,1107.5 1475.2,1107.2 1478.5,1103.8 1481.8,1098.8 1485.1,1093.5 1488.4,1085.2 1491.7,1093.1 1495.0,1088.5 1498.3,1079.4 1501.6,1069.8 1504.9,1080.2 1508.2,1077.5 1511.5,1070.2 1514.8,1068.1 1518.1,1060.6 1521.4,1060.0 1524.8,1045.0 1528.1,1039.0 1531.4,1043.1 1534.7,1045.2 1538.0,1031.0 1541.3,1031.5 1544.6,1029.0 1547.9,1032.2 1551.2,1023.8 1554.5,1015.6 1557.8,1010.6 1561.1,1011.0 1564.4,1001.2 1567.7,1001.0 1571.0,993.8 1574.3,990.0 1577.6,991.0 1580.9,981.9 1584.2,981.2 1587.6,970.0 1590.9,967.5 1594.2,963.8 1597.5,961.2 1600.8,955.6 1604.1,950.6 1607.4,950.2 1610.7,951.0 1614.0,943.8 1617.3,936.9 1620.6,927.8 1623.9,929.0 1627.2,924.0 1630.5,923.8 1633.8,918.1 1637.1,909.4 1640.4,906.9 1643.7,905.2 1647.0,901.0 1650.4,899.4 1653.7,892.8 1657.0,894.8 1660.3,891.0 1663.6,873.1 1666.9,876.2 1670.2,881.9 1673.5,875.6 1676.8,875.0 1680.1,859.0 1683.4,866.5 1686.7,862.2 1690.0,860.6 1693.3,868.1 1696.6,855.6 1699.9,843.5 1703.2,845.2 1706.5,831.2 1709.8,825.6 1713.2,825.2 1716.5,818.8 1719.8,813.1 1723.1,809.4 1726.4,808.5 1729.7,819.0 1733.0,810.0 1736.3,804.8 1739.6,806.2 1742.9,796.9 1746.2,801.9 1749.5,803.1 1752.8,800.0 1756.1,793.5 1759.4,782.8 1762.7,784.4 1766.0,792.2 1769.3,774.4 1772.6,773.8 1776.0,771.2 1779.3,766.2 1782.6,771.9 1785.9,775.0 1789.2,768.1 1792.5,761.0 1795.8,764.0 1799.1,763.1 1802.4,758.1 1805.7,749.8 1809.0,751.2 1812.3,763.5 1815.6,756.2 1818.9,750.0 1822.2,737.5 1825.5,727.5 1828.8,735.0 1832.1,743.5 1835.4,727.5 1838.7,728.1 1842.1,731.9 1845.4,728.1 1848.7,726.0 1852.0,732.5 1855.3,738.5 1858.6,724.8 1861.9,716.0 1865.2,721.2 1868.5,743.8 1871.8,729.4 1875.1,722.5 1878.4,705.0 1881.7,697.5 1885.0,711.9 1888.3,709.8 1891.6,715.0 1894.9,715.2 1898.2,707.5 1901.5,703.8 1904.9,687.8 1908.2,710.6 1911.5,709.8 1914.8,701.2 1918.1,691.5 1921.4,705.6 1924.7,698.1 1928.0,709.0 1931.3,710.0 1934.6,696.9"/>
</g>
<g font-family="'Liberation Sans', Arial, sans-serif" fill="#000">
<g font-size="81.4" text-anchor="middle">
<text transform="translate(282.1 1458) scale(1 1.04)">300</text>
<text transform="translate(612.6 1458) scale(1 1.04)">400</text>
<text transform="translate(943.1 1458) scale(1 1.04)">500</text>
<text transform="translate(1273.7 1458) scale(1 1.04)">600</text>
<text transform="translate(1604.2 1458) scale(1 1.04)">700</text>
<text transform="translate(1934.7 1458) scale(1 1.04)">800</text>
</g>
<g font-size="81.4" text-anchor="end">
<text transform="translate(253.8 1166.9) scale(1 1.04)">0.8</text>
<text transform="translate(253.8 721.9) scale(1 1.04)">1.0</text>
<text transform="translate(253.8 276.9) scale(1 1.04)">1.2</text>
</g>
<g font-size="75.7">
<text transform="translate(816.4 1593) scale(1 0.988)">Wavelength</text>
<text transform="translate(1238.5 1593.6) skewX(-10.4) scale(1.22 1.086)" font-family="'Liberation Serif', serif" font-style="italic">λ</text>
<text transform="translate(1276.2 1593) scale(1 0.988)">/nm</text>
<text text-anchor="middle" transform="translate(101 697) rotate(-90) scale(1.0025 0.988)">Relative diffuse reflectance (a.u.)</text>
</g>
<rect x="1324.5" y="88" width="413" height="413.8" fill="#fefefe" stroke="#000" stroke-width="2"/>
<line x1="1335.3" x2="1518.2" y1="144.6" y2="144.6" stroke="#000000" stroke-width="2" stroke-linecap="round"/>
<text font-size="81.4" transform="translate(1541.2 172.5) scale(1 1.04)">TIM1</text>
<line x1="1335.3" x2="1518.2" y1="245.1" y2="245.1" stroke="#0000ff" stroke-width="2" stroke-linecap="round"/>
<text font-size="81.4" transform="translate(1541.2 272.8) scale(1 1.04)">TIM2</text>
<line x1="1335.3" x2="1518.2" y1="345.5" y2="345.5" stroke="#00dd00" stroke-width="2" stroke-linecap="round"/>
<text font-size="81.4" transform="translate(1541.2 373.2) scale(1 1.04)">TIM3</text>
<line x1="1335.3" x2="1518.2" y1="446.0" y2="446.0" stroke="#ff0000" stroke-width="2" stroke-linecap="round"/>
<text font-size="81.4" transform="translate(1541.2 473.5) scale(1 1.04)">TIM4</text>
</g>
</svg>
</body></html>
